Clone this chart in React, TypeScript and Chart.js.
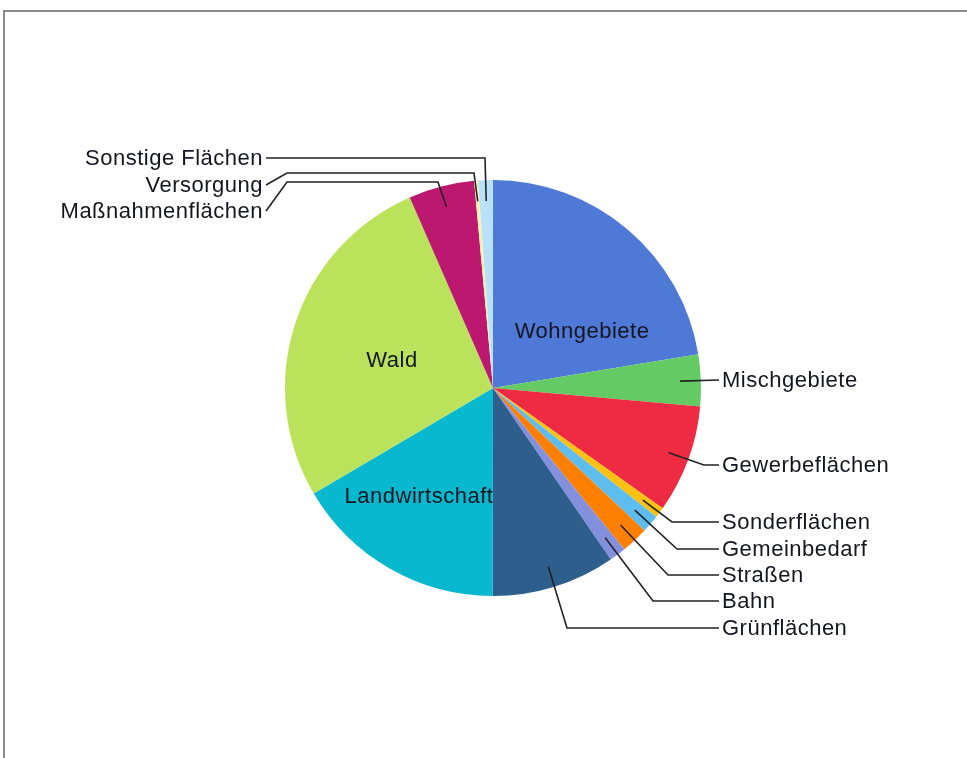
import React, { useEffect, useRef } from "react";
import { Chart, registerables } from "chart.js";

Chart.register(...registerables);

const categories = [
  "Wohngebiete",
  "Mischgebiete",
  "Gewerbeflächen",
  "Sonderflächen",
  "Gemeinbedarf",
  "Straßen",
  "Bahn",
  "Grünflächen",
  "Landwirtschaft",
  "Wald",
  "Maßnahmenflächen",
  "Versorgung",
  "Sonstige Flächen",
];

const shares = [22.4, 4.0, 8.4, 0.8, 1.4, 2.1, 1.3, 9.6, 16.5, 26.9, 5.1, 0.3, 1.15];

const sliceColors = [
  "#4F79D6",
  "#64CB64",
  "#EE2B42",
  "#FDC20F",
  "#5DBDEF",
  "#FF7F00",
  "#8290DE",
  "#2E5E8C",
  "#08B8CF",
  "#BAE35B",
  "#BD1870",
  "#FFF2B0",
  "#B9E1F8",
];

// label layout (text anchor + leader-line bends), index-aligned with categories
type LabelLayout = {
  mode: "inside" | "right" | "left";
  x: number;
  y: number;
  bends?: number[][];
};
const labelLayout: LabelLayout[] = [
  { mode: "inside", x: 582, y: 332 },
  { mode: "right", x: 722, y: 380, bends: [] },
  { mode: "right", x: 722, y: 465, bends: [[704, 465]] },
  { mode: "right", x: 722, y: 522, bends: [[672, 522]] },
  { mode: "right", x: 722, y: 549, bends: [[677, 549]] },
  { mode: "right", x: 722, y: 575, bends: [[668, 575]] },
  { mode: "right", x: 722, y: 601, bends: [[653, 601]] },
  { mode: "right", x: 722, y: 628, bends: [[567, 628]] },
  { mode: "inside", x: 419, y: 497 },
  { mode: "inside", x: 392, y: 361 },
  { mode: "left", x: 263, y: 211, bends: [[438, 182], [287, 182]] },
  { mode: "left", x: 263, y: 185, bends: [[474, 173], [287, 173]] },
  { mode: "left", x: 263, y: 158, bends: [[485, 158]] },
];

const FONT = '22px "Liberation Sans", Arial, sans-serif';

const labelPlugin = {
  id: "leaderLabels",
  afterDatasetsDraw(chart: any) {
    const ctx = chart.ctx;
    const meta = chart.getDatasetMeta(0);
    ctx.save();
    ctx.font = FONT;
    try {
      (ctx as any).letterSpacing = "0.5px";
    } catch (e) {}
    meta.data.forEach((arc: any, i: number) => {
      const lay = labelLayout[i];
      const { x, y, startAngle, endAngle, outerRadius } = arc.getProps(
        ["x", "y", "startAngle", "endAngle", "outerRadius"],
        true
      );
      const mid = (startAngle + endAngle) / 2;
      const text = chart.data.labels[i];
      ctx.fillStyle = "#151520";
      ctx.textBaseline = "middle";
      if (lay.mode === "inside") {
        ctx.textAlign = "center";
        ctx.fillText(text, lay.x, lay.y);
        return;
      }
      const sx = x + Math.cos(mid) * outerRadius * 0.9;
      const sy = y + Math.sin(mid) * outerRadius * 0.9;
      ctx.strokeStyle = "#222";
      ctx.lineWidth = 1.6;
      ctx.beginPath();
      ctx.moveTo(sx, sy);
      (lay.bends || []).forEach((p) => ctx.lineTo(p[0], p[1]));
      if (lay.mode === "right") {
        ctx.lineTo(lay.x - 3, lay.y);
      } else {
        ctx.lineTo(lay.x + 3, lay.y);
      }
      ctx.stroke();
      ctx.textAlign = lay.mode === "right" ? "left" : "right";
      ctx.fillText(text, lay.x, lay.y + 1);
    });
    ctx.restore();
  },
};

export default function App() {
  const canvasRef = useRef<HTMLCanvasElement | null>(null);

  useEffect(() => {
    if (!canvasRef.current) return;
    const chart = new Chart(canvasRef.current, {
      type: "pie",
      data: {
        labels: categories,
        datasets: [
          {
            data: shares,
            backgroundColor: sliceColors,
            borderWidth: 0,
          },
        ],
      },
      options: {
        responsive: false,
        animation: false,
        layout: {
          padding: { left: 285, right: 266, top: 180, bottom: 162 },
        },
        plugins: {
          legend: { display: false },
          tooltip: { enabled: false },
        },
      },
      plugins: [labelPlugin],
    });
    return () => chart.destroy();
  }, []);

  return (
    <div
      style={{
        position: "fixed",
        left: 0,
        top: 0,
        width: 967,
        height: 758,
        background: "#fff",
        overflow: "hidden",
      }}
    >
      <div
        style={{
          position: "absolute",
          left: 3,
          top: 10,
          width: 2000,
          height: 2000,
          borderTop: "2px solid #8c8c8c",
          borderLeft: "2px solid #8c8c8c",
        }}
      />
      <canvas
        ref={canvasRef}
        width={967}
        height={758}
        style={{ position: "absolute", left: 0, top: 0, width: 967, height: 758 }}
      />
    </div>
  );
}
